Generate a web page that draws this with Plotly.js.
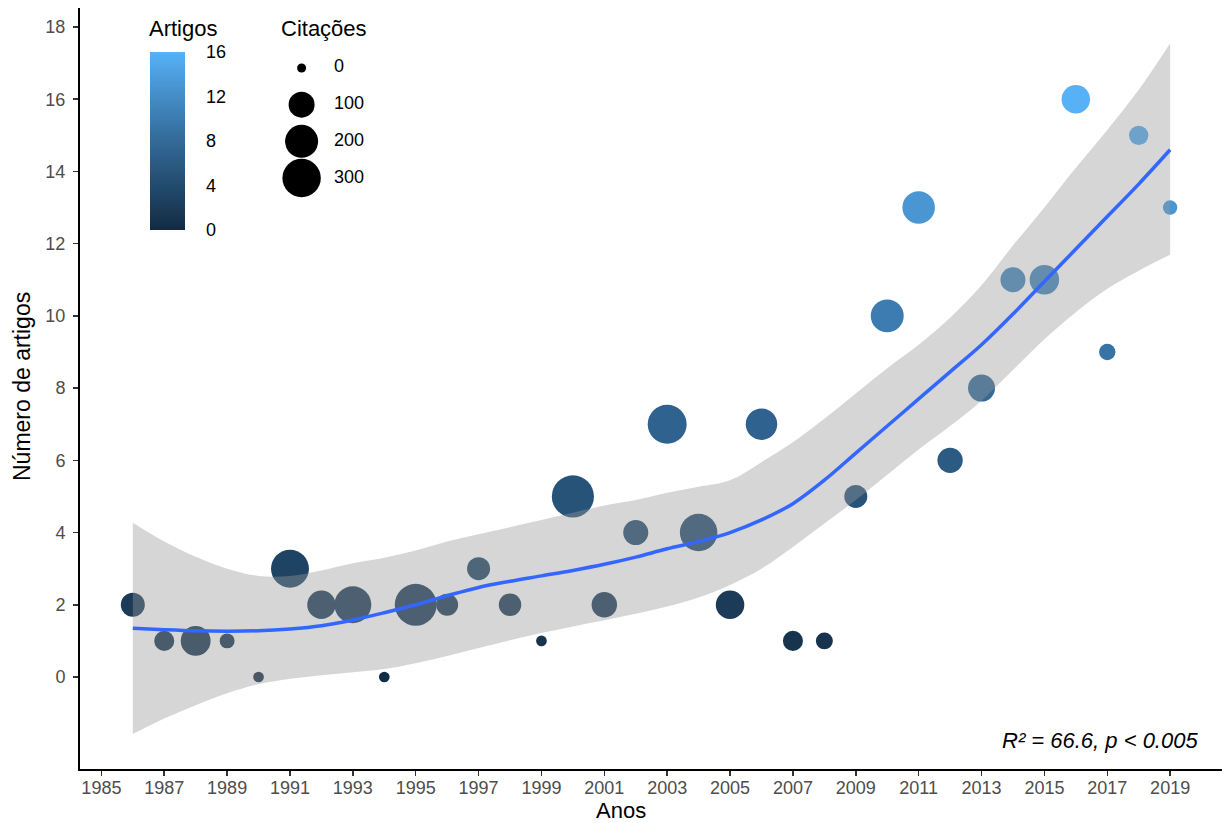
<!DOCTYPE html>
<html>
<head>
<meta charset="utf-8">
<script src="https://cdn.plot.ly/plotly-3.0.1.min.js"></script>
<style>html,body{margin:0;padding:0;background:#fff;}#chart{width:1225px;height:823px;}</style>
</head>
<body>
<div id="chart"></div>
<script>
// ---- data ----
const anos = [1986,1987,1988,1989,1990,1991,1992,1993,1994,1995,1996,1997,1998,1999,2000,2001,2002,2003,2004,2005,2006,2007,2008,2009,2010,2011,2012,2013,2014,2015,2016,2017,2018,2019];
const artigos = [2,1,1,1,0,3,2,2,0,2,2,3,2,1,5,2,4,7,4,2,7,1,1,5,10,13,6,8,11,11,16,9,15,13];
const citacoes = [78,42,150,12,1,290,130,270,1,375,58,68,63,1,380,94,89,311,281,132,175,42,22,68,199,191,92,112,89,145,132,19,37,10];
// loess fit and confidence band
const ajuste = [1.35,1.31,1.28,1.27,1.28,1.33,1.42,1.58,1.78,2.00,2.25,2.48,2.65,2.80,2.95,3.12,3.32,3.55,3.75,4.00,4.35,4.80,5.45,6.20,6.95,7.70,8.45,9.20,10.05,10.95,11.85,12.75,13.65,14.60];
const ajusteSup = [4.27,3.75,3.33,3.0,2.8,2.8,2.95,3.15,3.3,3.5,3.75,3.95,4.15,4.35,4.55,4.75,4.9,5.1,5.27,5.45,5.95,6.5,7.15,7.85,8.55,9.2,9.95,10.85,11.95,13.0,14.1,15.15,16.26,17.55];
const ajusteInf = [-1.58,-1.15,-0.78,-0.45,-0.2,-0.05,0.05,0.13,0.22,0.38,0.58,0.8,1.02,1.22,1.4,1.57,1.75,1.95,2.2,2.55,3.0,3.6,4.25,4.9,5.6,6.3,6.95,7.65,8.5,9.35,10.1,10.75,11.25,11.69];
const xTicks = [1985,1987,1989,1991,1993,1995,1997,1999,2001,2003,2005,2007,2009,2011,2013,2015,2017,2019];
const yTicks = [0,2,4,6,8,10,12,14,16,18];
const legendaArtigos = [0,4,8,12,16];
const legendaCitacoes = [0,100,200,300];
const tituloX = 'Anos';
const tituloY = 'Número de artigos';
const textoR2 = 'R² = 66.6, p < 0.005';

// ---- styling helpers ----
const tamanho = c => 9 + 1.7 * Math.sqrt(c);
const escala = [[0,'#132B43'],[0.25,'#234B6E'],[0.5,'#336A98'],[0.75,'#448DC7'],[1,'#56B1F7']];
const fonte = 'Liberation Sans, Arial, Helvetica, sans-serif';
const W = 1225, H = 823, ML = 80, MR = 3, MT = 8, MB = 54;
const PW = W - ML - MR, PH = H - MT - MB;
const px2paperX = p => (p - ML) / PW;
const px2paperY = p => (H - MB - p) / PH;

const pontos = {
  type:'scatter', mode:'markers', x:anos, y:artigos, hoverinfo:'skip',
  marker:{
    size:citacoes.map(tamanho), color:artigos, colorscale:escala, cmin:0, cmax:16,
    opacity:1, line:{width:0},
    showscale:true,
    colorbar:{
      thickness:35, lenmode:'pixels', len:178,
      x:150/W, xref:'container', xanchor:'left', xpad:0,
      y:1-152.5/H, yref:'container', yanchor:'middle', ypad:0,
      tickvals:legendaArtigos, ticks:'outside', ticklen:18, tickcolor:'rgba(0,0,0,0)',
      tickfont:{size:18, color:'black', family:fonte}, outlinewidth:0
    }
  }
};
const faixaInf = {type:'scatter', mode:'lines', x:anos, y:ajusteInf, line:{width:0, shape:'spline'}, hoverinfo:'skip'};
const faixaSup = {type:'scatter', mode:'lines', x:anos, y:ajusteSup, line:{width:0, shape:'spline'}, fill:'tonexty', fillcolor:'rgba(153,153,153,0.4)', hoverinfo:'skip'};
const linha = {type:'scatter', mode:'lines', x:anos, y:ajuste, line:{color:'#3366FF', width:3.5, shape:'spline'}, hoverinfo:'skip'};

const idx = legendaCitacoes.map((v,i)=>i);
const legPontos = {type:'scatter', mode:'markers', xaxis:'x2', yaxis:'y2', cliponaxis:false,
  x:legendaCitacoes.map(()=>0), y:idx, marker:{size:legendaCitacoes.map(tamanho), color:'#000000', opacity:1, line:{width:0}}, hoverinfo:'skip'};
const legTexto = {type:'scatter', mode:'text', xaxis:'x2', yaxis:'y2', cliponaxis:false,
  x:legendaCitacoes.map(()=>1), y:idx, text:legendaCitacoes.map(String), textposition:'middle right',
  textfont:{size:18, color:'black', family:fonte}, hoverinfo:'skip'};

const eixoBase = {showline:true, linecolor:'black', linewidth:2, showgrid:false, zeroline:false,
  ticks:'outside', ticklen:5, tickwidth:1.5, tickcolor:'#333', automargin:false,
  tickfont:{size:18, color:'#4d4d4d', family:fonte}};

const layout = {
  width:W, height:H, margin:{l:ML, r:MR, t:MT, b:MB, autoexpand:false},
  paper_bgcolor:'white', plot_bgcolor:'rgba(0,0,0,0)', showlegend:false,
  font:{family:fonte, color:'black'},
  xaxis:Object.assign({}, eixoBase, {range:[1984.32,2020.65], tickvals:xTicks, ticklabelstandoff:-4}),
  yaxis:Object.assign({}, eixoBase, {range:[-2.548,18.526], tickvals:yTicks, ticklabelstandoff:4}),
  xaxis2:{domain:[px2paperX(280), px2paperX(400)], range:[-0.6667,3.037], visible:false, anchor:'y2', fixedrange:true},
  yaxis2:{domain:[px2paperY(196.35), px2paperY(49.65)], range:[3.5,-0.5], visible:false, anchor:'x2', fixedrange:true},
  annotations:[
    {text:tituloX, xref:'paper', yref:'paper', x:px2paperX(621), y:px2paperY(811), xanchor:'center', yanchor:'middle', showarrow:false, font:{size:22, color:'black'}},
    {text:tituloY, xref:'paper', yref:'paper', x:px2paperX(22), y:px2paperY(387), xanchor:'center', yanchor:'middle', textangle:-90, showarrow:false, font:{size:23, color:'black'}},
    {text:'Artigos', xref:'paper', yref:'paper', x:px2paperX(147), y:px2paperY(28.6), xanchor:'left', yanchor:'middle', showarrow:false, font:{size:22, color:'black'}},
    {text:'Citações', xref:'paper', yref:'paper', x:px2paperX(279), y:px2paperY(28.6), xanchor:'left', yanchor:'middle', showarrow:false, font:{size:22, color:'black'}},
    {text:'<i>'+textoR2+'</i>', xref:'paper', yref:'paper', x:px2paperX(1200), y:px2paperY(740), xanchor:'right', yanchor:'middle', showarrow:false, font:{size:22, color:'black'}}
  ]
};

Plotly.newPlot('chart', [pontos, faixaInf, faixaSup, linha, legPontos, legTexto], layout, {staticPlot:true, displayModeBar:false});
</script>
</body>
</html>
